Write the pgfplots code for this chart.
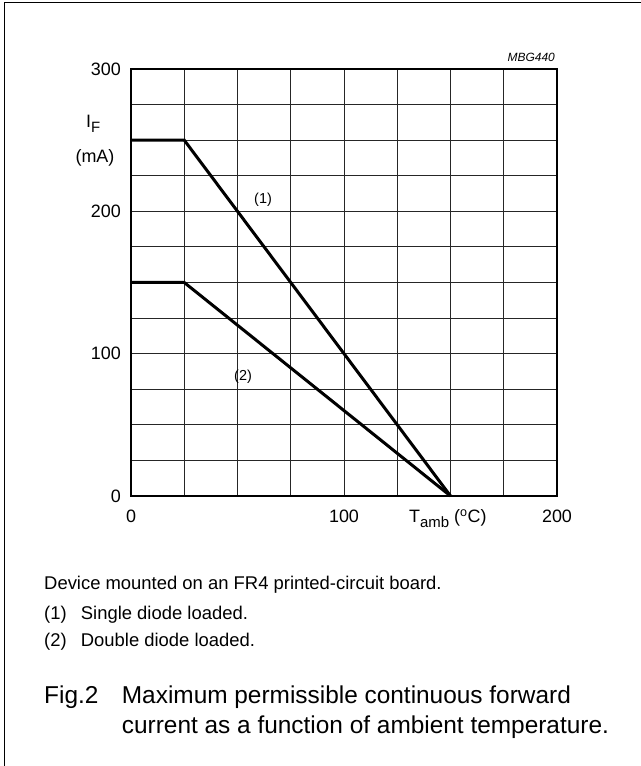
\documentclass[border=0pt]{standalone}
\usepackage{pgfplots}
\pgfplotsset{compat=1.18}
\usepackage{fontspec}
\setmainfont{Liberation Sans}
\newcommand{\fs}[1]{\fontsize{#1}{#1}\selectfont}
\begin{document}
\begin{tikzpicture}[x=1bp,y=1bp]
\path[use as bounding box] (0,0) rectangle (641,766);
% frame (only left and top edges are inside the picture)
\draw[line width=1.5bp] (4.5,0) -- (4.5,763.5) -- (641,763.5);

\begin{axis}[
  at={(131bp,270bp)}, anchor=south west,
  scale only axis, width=426bp, height=427bp,
  xmin=0, xmax=200, ymin=0, ymax=300,
  xtick={0,100,200}, ytick={0,100,200,300},
  minor xtick={25,50,75,125,150,175},
  minor ytick={25,50,75,125,150,175,225,250,275},
  grid=both,
  major grid style={black!85, line width=1bp},
  minor grid style={black!85, line width=1bp},
  major tick length=0pt, minor tick length=0pt,
  axis line style={black, line width=1.2bp},
  tick label style={font=\fs{18}, inner sep=0pt},
  xticklabel style={anchor=north, yshift=-14bp},
  yticklabel style={anchor=east, xshift=-10bp},
  /pgf/number format/assume math mode=true,
  clip=false,
]
% (1) single diode loaded
\addplot[black, line width=3bp, line join=miter] coordinates {
(0,250) (25,250) (150,0)
};
% (2) double diode loaded
\addplot[black, line width=3bp, line join=miter] coordinates {
(0,150) (25,150) (150,0)
};
\node[font=\fs{14.5}] at (axis cs:62,208) {(1)};
\node[font=\fs{14.5}] at (axis cs:52.6,83.6) {(2)};
\end{axis}

% axis titles
\node[anchor=base west, font=\fs{18}, inner sep=0pt] at (86,638)
  {I\raisebox{-0.45ex}{\fs{15}F}};
\node[anchor=base, font=\fs{18}, inner sep=0pt] at (95,603) {(mA)};
\node[anchor=base west, font=\fs{18}, inner sep=0pt] at (409,243)
  {T\raisebox{-0.5ex}{\fs{15}amb} (\textsuperscript{o}C)};
\node[anchor=base east, font=\fs{12}\itshape, inner sep=0pt] at (555,704) {MBG440};

% notes and caption
\node[anchor=base west, font=\fs{18.5}, inner sep=0pt] at (44,176)
  {Device mounted on an FR4 printed-circuit board.};
\node[anchor=base west, font=\fs{18.5}, inner sep=0pt] at (44,146) {(1)};
\node[anchor=base west, font=\fs{18.5}, inner sep=0pt] at (80.7,146) {Single diode loaded.};
\node[anchor=base west, font=\fs{18.5}, inner sep=0pt] at (44,119) {(2)};
\node[anchor=base west, font=\fs{18.5}, inner sep=0pt] at (80.7,119) {Double diode loaded.};
\node[anchor=base west, font=\fs{24.5}, inner sep=0pt] at (44,62) {Fig.2};
\node[anchor=base west, font=\fs{24.5}, inner sep=0pt] at (121.7,62)
  {Maximum permissible continuous forward};
\node[anchor=base west, font=\fs{24.5}, inner sep=0pt] at (121.7,32)
  {current as a function of ambient temperature.};
\end{tikzpicture}
\end{document}
